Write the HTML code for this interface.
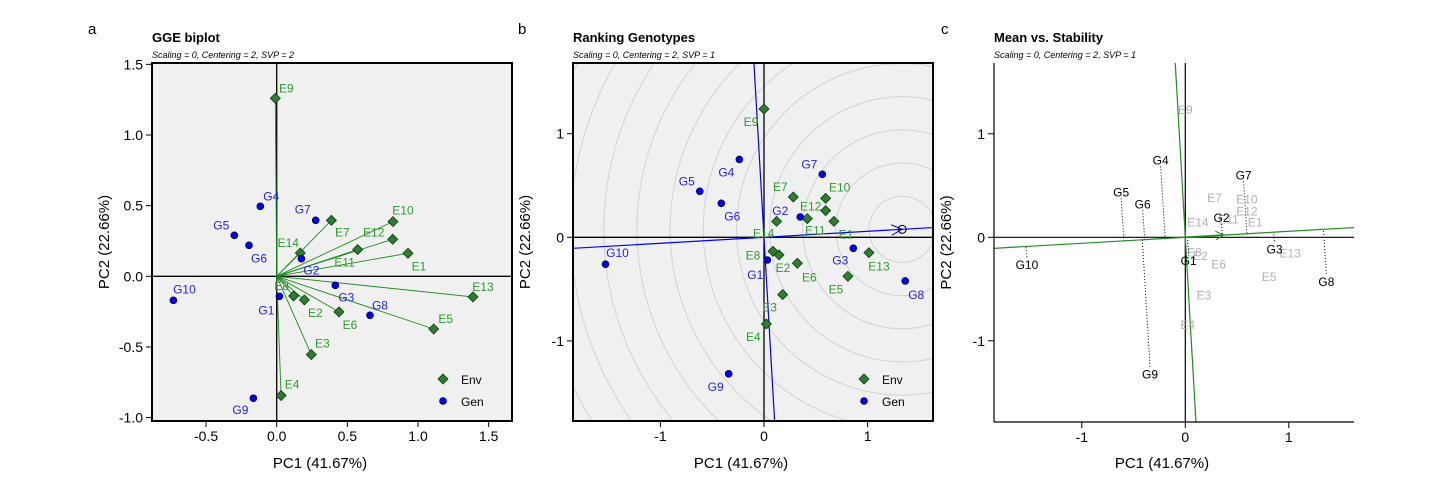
<!DOCTYPE html>
<html><head><meta charset="utf-8"><style>
html,body{margin:0;padding:0;background:#fff;width:1440px;height:480px;overflow:hidden}
svg{display:block;font-family:"Liberation Sans",Arial,sans-serif}
</style></head><body>
<svg id="root" width="1440" height="480" viewBox="0 0 1440 480" xmlns="http://www.w3.org/2000/svg"></svg>
<script>
// ---- data: panel a (SVP = 2) ----
const envNames = ["E1","E2","E3","E4","E5","E6","E7","E8","E9","E10","E11","E12","E13","E14"];
const envA_x = [0.929,0.196,0.245,0.031,1.111,0.441,0.387,0.120,-0.010,0.823,0.573,0.821,1.389,0.167];
const envA_y = [0.163,-0.167,-0.554,-0.844,-0.373,-0.252,0.396,-0.139,1.26,0.387,0.189,0.262,-0.146,0.165];
const genNames = ["G1","G2","G3","G4","G5","G6","G7","G8","G9","G10"];
const genA_x = [0.019,0.175,0.415,-0.116,-0.300,-0.196,0.276,0.660,-0.165,-0.731];
const genA_y = [-0.142,0.125,-0.064,0.495,0.290,0.219,0.396,-0.276,-0.863,-0.170];
// ---- data: panels b, c (SVP = 1) ----
const envB_x = [0.675,0.145,0.180,0.023,0.810,0.322,0.283,0.087,0.000,0.595,0.418,0.595,1.013,0.122];
const envB_y = [0.154,-0.170,-0.553,-0.836,-0.376,-0.251,0.389,-0.135,1.238,0.376,0.180,0.257,-0.148,0.154];
const genB_x = [0.032,0.350,0.862,-0.238,-0.620,-0.412,0.563,1.363,-0.341,-1.530];
const genB_y = [-0.219,0.196,-0.106,0.752,0.444,0.328,0.608,-0.421,-1.318,-0.260];
const idealPoint = [1.334,0.077];
const ticksA_x = [-0.5,0.0,0.5,1.0,1.5];
const ticksA_y = [-1.0,-0.5,0.0,0.5,1.0,1.5];
const ticksB = [-1,0,1];

// label offsets (px, styling only)
const offEA=[[11,13],[11,13],[11,-11],[11,-11],[12,-10],[11,13],[11,12],[-12,-10],[11,-10],[10,-11],[-13,13],[-19,-7],[10,-10],[-12,-10]];
const offGA=[[-13,14],[10,12],[11,12],[11,-10],[-13,-10],[10,13],[-13,-11],[10,-10],[-13,12],[11,-11]];
const offEB=[[12,13],[4,13],[-13,13],[-13,13],[-12,13],[12,14],[-13,-10],[-20,4],[-13,13],[14,-11],[8,12],[-15,-4],[10,14],[-13,12]];
const offGB=[[-12,15],[-20,-6],[-13,12],[-13,13],[-13,-10],[11,13],[-13,-10],[11,14],[-13,13],[12,-11]];

const NS="http://www.w3.org/2000/svg";
const root=document.getElementById('root');
function mk(tag,attrs,parent){const e=document.createElementNS(NS,tag);for(const k in attrs)e.setAttribute(k,attrs[k]);(parent||root).appendChild(e);return e;}
function txt(s,attrs,parent){const e=mk('text',attrs,parent);e.textContent=s;return e;}
// clip a segment to rectangle (Liang-Barsky)
function clipSeg(x1,y1,x2,y2,L,T,R,B){let t0=0,t1=1;const dx=x2-x1,dy=y2-y1;
  const p=[-dx,dx,-dy,dy],q=[x1-L,R-x1,y1-T,B-y1];
  for(let i=0;i<4;i++){if(p[i]===0){if(q[i]<0)return null;}else{const r=q[i]/p[i];if(p[i]<0){if(r>t1)return null;if(r>t0)t0=r;}else{if(r<t0)return null;if(r<t1)t1=r;}}}
  return [x1+t0*dx,y1+t0*dy,x1+t1*dx,y1+t1*dy];}

function panel(cfg){
  const g=mk('g',{});
  
  
  const sx=v=>cfg.x0+v*cfg.sc, sy=v=>cfg.y0-v*cfg.sc;
  const L=cfg.L,R=cfg.R,T=cfg.T,B=cfg.B;
  if(cfg.bg){const r=mk('rect',{x:L,y:T,width:R-L,height:B-T,fill:'#f0f0f0'},g);
    }
  const pg=mk('g',{},g);
  const t1=txt(cfg.letter,{x:cfg.lx,y:34,'font-size':15},g);
  
  const t2=txt(cfg.title,{x:L,y:42,'font-size':13,'font-weight':'bold'},g);
  
  const t3=txt(cfg.sub,{x:L,y:58,'font-size':9,'font-style':'italic'},g);
  
  return {g,pg,sx,sy};
}
function axes(P,cfg,tx,ty,fmt){
  const {g,sx,sy}=P;
  for(const v of tx){const X=sx(v);mk('line',{x1:X,x2:X,y1:cfg.B,y2:cfg.B+6,stroke:'#000'},g);
    const t=txt(fmt(v),{x:X,y:cfg.B+20,'font-size':14,'text-anchor':'middle'},g);
    }
  for(const v of ty){const Y=sy(v);mk('line',{x1:cfg.L-6,x2:cfg.L,y1:Y,y2:Y,stroke:'#000'},g);
    const t=txt(fmt(v),{x:cfg.L-9,y:Y+5,'font-size':14,'text-anchor':'end'},g);
    }
  const xt=txt('PC1 (41.67%)',{x:(cfg.L+cfg.R)/2-12,y:468,'font-size':15,'text-anchor':'middle'},g);
  
  const cy=(cfg.T+cfg.B)/2;
  const yt=txt('PC2 (22.66%)',{x:cfg.L-43,y:cy,'font-size':15,'text-anchor':'middle',transform:`rotate(-90 ${cfg.L-43} ${cy})`},g);
  
}
function diamond(x,y,parent){const s=5;const p=mk('polygon',{points:`${x},${y-s} ${x+s},${y} ${x},${y+s} ${x-s},${y}`,fill:'#2e7d32',stroke:'#0b3d0b','stroke-width':0.8},parent);return p;}
function dot(x,y,parent){const c=mk('circle',{cx:x,cy:y,r:3.5,fill:'#0000ee',stroke:'#000033','stroke-width':0.6},parent);return c;}
function legend(g,x){diamond(x,379,g);const a=txt('Env',{x:x+18,y:384,'font-size':12},g);
  dot(x,401,g);const b=txt('Gen',{x:x+18,y:406,'font-size':12},g);}
const GREEN='#2e9a2e', BLUE='#2222ee';

// ---- Panel a ----
const cA={name:'panel-a-gge-biplot',letter:'a',lx:88,title:'GGE biplot',sub:'Scaling = 0, Centering = 2, SVP = 2',L:152,R:512,T:63,B:421,x0:276.7,y0:276.3,sc:141.3,bg:true};
const PA=panel(cA);
mk('line',{x1:cA.L,x2:cA.R,y1:PA.sy(0),y2:PA.sy(0),stroke:'#000','stroke-width':1.3},PA.pg);
mk('line',{x1:PA.sx(0),x2:PA.sx(0),y1:cA.T,y2:cA.B,stroke:'#000','stroke-width':1.3},PA.pg);
envNames.forEach((n,i)=>{const l=mk('line',{x1:PA.sx(0),y1:PA.sy(0),x2:PA.sx(envA_x[i]),y2:PA.sy(envA_y[i]),stroke:'#1e8a1e','stroke-width':0.9},PA.pg);
  });
envNames.forEach((n,i)=>{const X=PA.sx(envA_x[i]),Y=PA.sy(envA_y[i]);diamond(X,Y,PA.pg);
  const t=txt(n,{x:X+offEA[i][0],y:Y+offEA[i][1]+4,'font-size':12,'text-anchor':'middle',fill:GREEN},PA.pg);
  });
genNames.forEach((n,i)=>{const X=PA.sx(genA_x[i]),Y=PA.sy(genA_y[i]);dot(X,Y,PA.pg);
  const t=txt(n,{x:X+offGA[i][0],y:Y+offGA[i][1]+4,'font-size':12,'text-anchor':'middle',fill:BLUE},PA.pg);
  });
legend(PA.g,443);
mk('rect',{x:cA.L,y:cA.T,width:cA.R-cA.L,height:cA.B-cA.T,fill:'none',stroke:'#000','stroke-width':2},PA.g);
axes(PA,cA,ticksA_x,ticksA_y,v=>v.toFixed(1));

// ---- Panel b ----
const cB={name:'panel-b-ranking-genotypes',letter:'b',lx:518,title:'Ranking Genotypes',sub:'Scaling = 0, Centering = 2, SVP = 1',L:573,R:933,T:63,B:421,x0:764,y0:237.3,sc:103.6,bg:true};
const PB=panel(cB);
const ix=PB.sx(idealPoint[0]), iy=PB.sy(idealPoint[1]);
function inBox(x,y,c){return x>=c.L&&x<=c.R&&y>=c.T&&y<=c.B;}
for(let k=1;k<=12;k++){const r=k*0.32*cB.sc;let d='';let pen=false;
  for(let j=0;j<=720;j++){const a=j/720*2*Math.PI;const x=ix+r*Math.cos(a),y=iy+r*Math.sin(a);
    if(inBox(x,y,cB)){d+=(pen?'L':'M')+x.toFixed(1)+','+y.toFixed(1);pen=true;}else pen=false;}
  if(d){const c=mk('path',{d:d,fill:'none',stroke:'#d2d2d2','stroke-width':1},PB.pg);
  }}
mk('line',{x1:cB.L,x2:cB.R,y1:PB.sy(0),y2:PB.sy(0),stroke:'#000','stroke-width':1.3},PB.pg);
mk('line',{x1:PB.sx(0),x2:PB.sx(0),y1:cB.T,y2:cB.B,stroke:'#000','stroke-width':1.3},PB.pg);
const ux=idealPoint[0],uy=idealPoint[1];
function aecLines(P,c,color,parent){
  const s1=clipSeg(P.sx(-ux*3),P.sy(-uy*3),P.sx(ux*3),P.sy(uy*3),c.L,c.T,c.R,c.B);
  if(s1){const a=mk('line',{x1:s1[0],y1:s1[1],x2:s1[2],y2:s1[3],stroke:color,'stroke-width':1.2},parent);
  }
  const s2=clipSeg(P.sx(uy*3),P.sy(-ux*3),P.sx(-uy*3),P.sy(ux*3),c.L,c.T,c.R,c.B);
  if(s2){const o=mk('line',{x1:s2[0],y1:s2[1],x2:s2[2],y2:s2[3],stroke:color,'stroke-width':1.2},parent);
  }
}
aecLines(PB,cB,'#0000ff',PB.pg);
(function(){const ang=Math.atan2(iy-PB.sy(0),ix-PB.sx(0));
  for(const s of [1,-1]){const a=ang+Math.PI+s*0.45;mk('line',{x1:ix,y1:iy,x2:ix+12*Math.cos(a),y2:iy+12*Math.sin(a),stroke:'#0000ff','stroke-width':1},PB.pg);}
  const c=mk('circle',{cx:ix,cy:iy,r:4,fill:'none',stroke:'#000','stroke-width':1},PB.pg);
  })();
envNames.forEach((n,i)=>{const X=PB.sx(envB_x[i]),Y=PB.sy(envB_y[i]);diamond(X,Y,PB.pg);
  const t=txt(n,{x:X+offEB[i][0],y:Y+offEB[i][1]+4,'font-size':12,'text-anchor':'middle',fill:GREEN},PB.pg);
  });
genNames.forEach((n,i)=>{const X=PB.sx(genB_x[i]),Y=PB.sy(genB_y[i]);dot(X,Y,PB.pg);
  const t=txt(n,{x:X+offGB[i][0],y:Y+offGB[i][1]+4,'font-size':12,'text-anchor':'middle',fill:BLUE},PB.pg);
  });
legend(PB.g,864);
mk('rect',{x:cB.L,y:cB.T,width:cB.R-cB.L,height:cB.B-cB.T,fill:'none',stroke:'#000','stroke-width':2},PB.g);
axes(PB,cB,ticksB,ticksB,v=>String(v));

// ---- Panel c ----
const cC={name:'panel-c-mean-vs-stability',letter:'c',lx:941,title:'Mean vs. Stability',sub:'Scaling = 0, Centering = 2, SVP = 1',L:994,R:1354,T:63,B:422,x0:1185.3,y0:237.3,sc:103.5,bg:false};
const PC=panel(cC);
mk('line',{x1:cC.L,x2:cC.R,y1:PC.sy(0),y2:PC.sy(0),stroke:'#000','stroke-width':1.2},PC.pg);
mk('line',{x1:PC.sx(0),x2:PC.sx(0),y1:cC.T,y2:cC.B,stroke:'#000','stroke-width':1.2},PC.pg);
aecLines(PC,cC,'#228b22',PC.pg);
(function(){const un=Math.hypot(ux,uy);const tx=PC.sx(0.37*ux/un),ty=PC.sy(0.37*uy/un);
  mk('line',{x1:PC.sx(0),y1:PC.sy(0),x2:tx,y2:ty,stroke:'#228b22','stroke-width':1.6},PC.pg);
  const ang=Math.atan2(ty-PC.sy(0),tx-PC.sx(0));
  for(const s of [1,-1]){const a=ang+Math.PI+s*0.5;mk('line',{x1:tx,y1:ty,x2:tx+9*Math.cos(a),y2:ty+9*Math.sin(a),stroke:'#228b22','stroke-width':1},PC.pg);}})();
envNames.forEach((n,i)=>{const X=PC.sx(envB_x[i]),Y=PC.sy(envB_y[i]);
  const t=txt(n,{x:X,y:Y+5,'font-size':12,'text-anchor':'middle',fill:'#b0b0b8'},PC.pg);
  });
genNames.forEach((n,i)=>{const px=genB_x[i],py=genB_y[i];const un2=ux*ux+uy*uy;const d=(px*ux+py*uy)/un2;
  const qx=d*ux,qy=d*uy;const X=PC.sx(px),Y=PC.sy(py),QX=PC.sx(qx),QY=PC.sy(qy);
  const dir=QY>Y?1:-1;
  const l=mk('line',{x1:X,y1:Y+dir*7,x2:QX,y2:QY,stroke:'#000','stroke-width':1,'stroke-dasharray':'1,2'},PC.pg);
  
  const t=txt(n,{x:X,y:Y+5,'font-size':12,'text-anchor':'middle',fill:'#000'},PC.pg);
  });
mk('line',{x1:cC.L,x2:cC.L,y1:cC.T,y2:cC.B,stroke:'#000','stroke-width':1.2},PC.g);
mk('line',{x1:cC.L,x2:cC.R,y1:cC.B,y2:cC.B,stroke:'#000','stroke-width':1.2},PC.g);
axes(PC,cC,ticksB,ticksB,v=>String(v));
</script>
</body></html>
